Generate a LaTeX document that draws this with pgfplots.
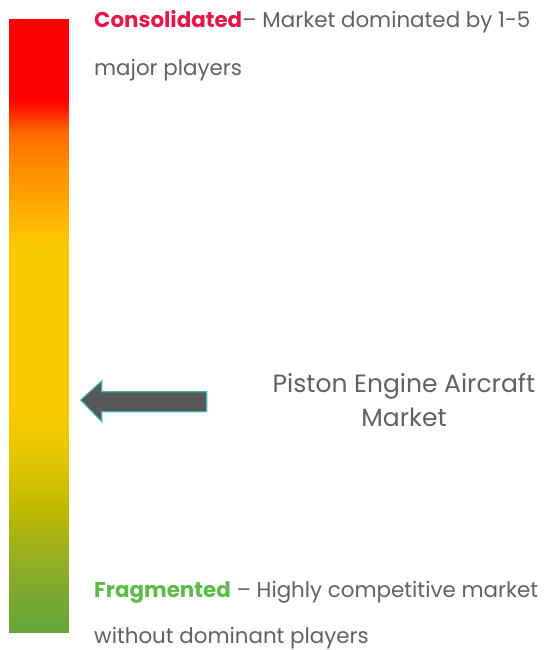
\documentclass[border=0pt]{standalone}
\usepackage{fontspec}
\setmainfont{Poppins}
\usepackage{pgfplots}
\pgfplotsset{compat=1.18}

\definecolor{txtgray}{HTML}{616161}
\definecolor{consred}{HTML}{E8174A}
\definecolor{fraggreen}{HTML}{5DBB4A}
\definecolor{arrowfill}{HTML}{575757}
\definecolor{arrowedge}{HTML}{3FB8B0}

% vertical scale of the concentration bar: y position -> colour stop
\pgfplotstableread{
x    y
9    19
68   19
9    100
68   100
9    133
68   133
9    167
68   167
9    200
68   200
9    233
68   233
9    250
68   250
9    410
68   410
9    450
68   450
9    483
68   483
9    510
68   510
9    533
68   533
9    567
68   567
9    600
68   600
9    632
68   632
}\bartable

\begin{document}
\begin{tikzpicture}
\begin{axis}[
  scale only axis, width=549bp, height=650bp,
  xmin=0, xmax=549, ymin=0, ymax=650,
  y dir=reverse,
  hide axis, clip=false,
  colormap={concentration}{
    rgb255(19pt)=(255,0,0)
    rgb255(100pt)=(255,0,0)
    rgb255(133pt)=(255,106,0)
    rgb255(167pt)=(255,140,0)
    rgb255(200pt)=(255,165,0)
    rgb255(233pt)=(255,192,0)
    rgb255(250pt)=(250,203,0)
    rgb255(410pt)=(250,203,0)
    rgb255(450pt)=(232,200,0)
    rgb255(483pt)=(210,192,0)
    rgb255(510pt)=(189,184,0)
    rgb255(533pt)=(168,180,16)
    rgb255(567pt)=(144,173,40)
    rgb255(600pt)=(120,168,48)
    rgb255(632pt)=(101,168,58)
  },
  point meta min=19, point meta max=632,
]
% page extent
\addplot[draw=none, mark=none, forget plot] coordinates {(0,0) (549,650)};

% gradient bar from fragmented (bottom) to consolidated (top)
\addplot[surf, shader=interp, mesh/cols=2, point meta=y, forget plot] table {\bartable};

% arrow marking the market's position
\addplot[fill=arrowfill, draw=arrowedge, line width=1.1bp, mark=none, forget plot]
  coordinates {(80.7,400) (101.7,381) (101.7,391.7) (206.7,391.7)
               (206.7,411.7) (101.7,411.7) (101.7,421.7)} -- cycle;

\node[anchor=base west, inner sep=0pt, font=\fontsize{21.4bp}{25bp}\selectfont]
  at (axis cs:94,28) {\textcolor{consred}{\bfseries Consolidated}\textcolor{txtgray}{– Market dominated by 1-5}};
\node[anchor=base west, inner sep=0pt, font=\fontsize{21.4bp}{25bp}\selectfont, text=txtgray]
  at (axis cs:94,76) {major players};

\node[anchor=base, inner sep=0pt, font=\fontsize{25bp}{29bp}\selectfont, text=txtgray]
  at (axis cs:404,392) {Piston Engine Aircraft};
\node[anchor=base, inner sep=0pt, font=\fontsize{25bp}{29bp}\selectfont, text=txtgray]
  at (axis cs:404,426) {Market};

\node[anchor=base west, inner sep=0pt, font=\fontsize{21.4bp}{25bp}\selectfont]
  at (axis cs:94,597) {\textcolor{fraggreen}{\bfseries Fragmented}\textcolor{txtgray}{\ – Highly competitive market}};
\node[anchor=base west, inner sep=0pt, font=\fontsize{21.4bp}{25bp}\selectfont, text=txtgray]
  at (axis cs:94,643) {without dominant players};
\end{axis}
\end{tikzpicture}
\end{document}
